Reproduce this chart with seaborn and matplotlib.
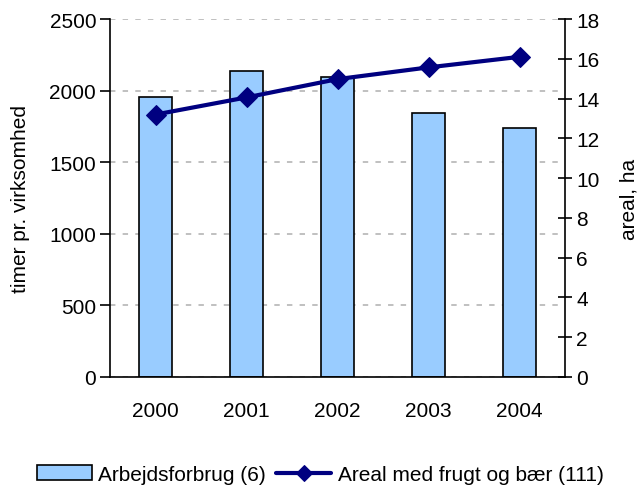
import numpy as np
import pandas as pd
import matplotlib
matplotlib.use("Agg")
import matplotlib.pyplot as plt
import seaborn as sns

# -----------------------------
# Data
# -----------------------------
years = ["2000", "2001", "2002", "2003", "2004"]
arbejdsforbrug = [1957, 2139, 2097, 1846, 1737]
areal = [13.2, 14.06, 14.98, 15.57, 16.1]

df = pd.DataFrame({"year": years, "timer": arbejdsforbrug, "areal": areal})

sns.set_style("white")
plt.rcParams["font.family"] = ["Liberation Sans", "DejaVu Sans"]
plt.rcParams["font.size"] = 15
plt.rcParams["text.color"] = "black"
plt.rcParams["axes.labelcolor"] = "black"
plt.rcParams["xtick.color"] = "black"
plt.rcParams["ytick.color"] = "black"

fig = plt.figure(figsize=(6.4, 4.89), dpi=100)
ax = fig.add_axes([0.172, 0.227, 0.711, 0.732])

# bars
sns.barplot(data=df, x="year", y="timer", ax=ax, color="#99CCFF",
            edgecolor="black", linewidth=1.2, width=0.37, saturation=1,
            label="Arbejdsforbrug (6)")
if ax.get_legend() is not None:
    ax.get_legend().remove()
ax.set_ylim(0, 2500)
ax.set_xlim(-0.5, 4.5)
ax.set_yticks(range(0, 2501, 500))
ax.set_xticks(np.arange(5))
ax.set_xticklabels(years)
ax.set_xticks(np.arange(-0.5, 5, 1), minor=True)
ax.tick_params(axis="x", which="major", length=0, pad=17, labelsize=15)
ax.tick_params(axis="x", which="minor", length=8, direction="inout", width=1.2)
ax.tick_params(axis="y", length=7, direction="out", width=1.2, labelsize=15, pad=3)
ax.set_xlabel("")
ax.set_ylabel("timer pr. virksomhed", fontsize=15, labelpad=14)
ax.yaxis.grid(True, color="#BBBBBB", linestyle=(0, (3, 4)), linewidth=1.3)
ax.set_axisbelow(True)
for s in ["left", "bottom"]:
    ax.spines[s].set_color("black")
    ax.spines[s].set_linewidth(1.2)
ax.spines["top"].set_visible(False)
ax.spines["right"].set_visible(False)

# line on second axis
ax2 = ax.twinx()
sns.lineplot(x=np.arange(len(years)), y=areal, ax=ax2, color="#000080",
             linewidth=3, marker="D", markersize=10, markeredgecolor="#000080",
             label="Areal med frugt og bær (111)", legend=False)
ax2.set_ylim(0, 18)
ax2.set_yticks(range(0, 19, 2))
ax2.tick_params(axis="y", length=10, direction="inout", width=1.2, labelsize=15, pad=3)
ax2.set_ylabel("areal, ha", fontsize=15, labelpad=14)
ax2.spines["top"].set_visible(False)
ax2.spines["left"].set_visible(False)
ax2.spines["bottom"].set_visible(False)
ax2.spines["right"].set_color("black")
ax2.spines["right"].set_linewidth(1.2)

h1, l1 = ax.get_legend_handles_labels()
h2, l2 = ax2.get_legend_handles_labels()
leg = fig.legend(h1 + h2, l1 + l2, loc="center", bbox_to_anchor=(0.5, 0.028),
                 ncol=2, frameon=False, fontsize=15, handlelength=2.65,
                 columnspacing=0.5, handletextpad=0.3, markerscale=0.8)

plt.savefig("out.png", dpi=100)
